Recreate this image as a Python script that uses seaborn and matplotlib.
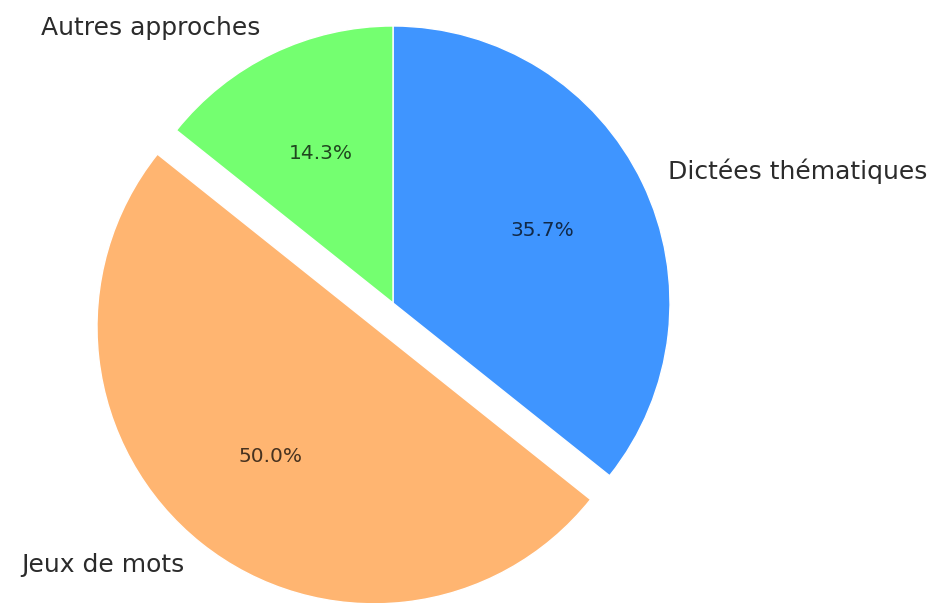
import matplotlib
matplotlib.use("Agg")
import matplotlib.pyplot as plt
import seaborn as sns

categories = ["Dictées thématiques", "Jeux de mots", "Autres approches"]
values = [5, 7, 2]
colors = ["#3f95ff", "#ffb571", "#74ff70"]
explode = [0, 0.11, 0]

sns.set_theme(style="white")
plt.rcParams["font.family"] = ["DejaVu Sans"]

fig = plt.figure(figsize=(9.38, 6.03), dpi=100)
ax = fig.add_axes([0, 0, 1, 1])
wedges, texts, autotexts = ax.pie(
    values, labels=categories, colors=colors, explode=explode,
    autopct="%1.1f%%", startangle=90, counterclock=False,
    textprops={"fontsize": 18, "color": "#2b2b2b"},
)
for t in autotexts:
    t.set_fontsize(14.5)
    t.set_color("black")
    t.set_alpha(0.72)

r = 277.0
cx, cy = 393.0, 303.0
ax.set_aspect("auto")
ax.set_xlim(-cx / r, (938 - cx) / r)
ax.set_ylim((cy - 603) / r, cy / r)
ax.axis("off")
fig.savefig("out.png", dpi=100)
